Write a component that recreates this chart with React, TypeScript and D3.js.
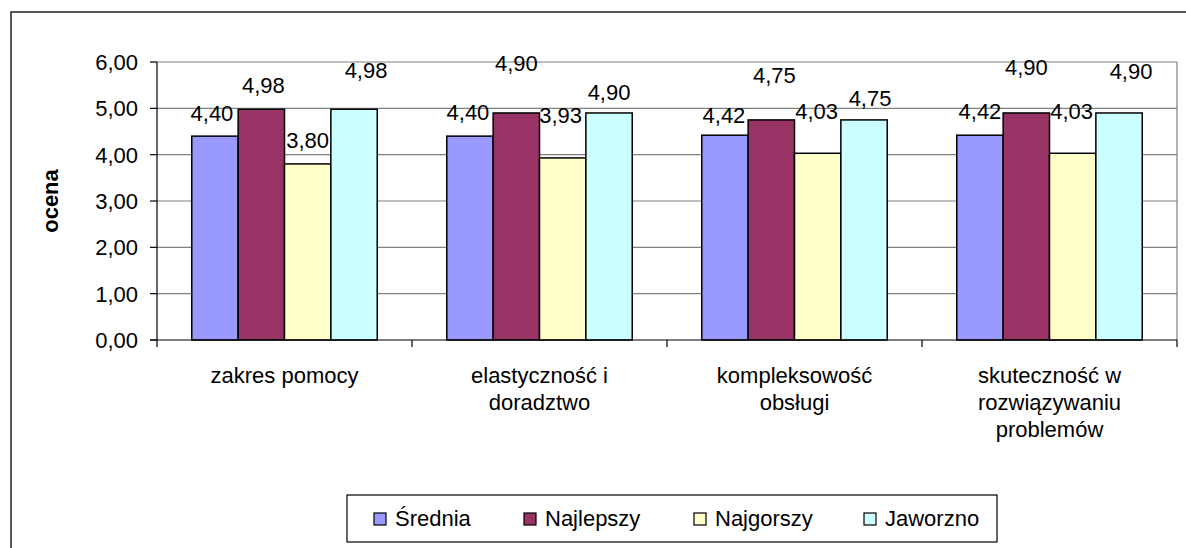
import * as d3 from 'd3';

const categories: string[][] = [
  ['zakres pomocy'],
  ['elastyczność i', 'doradztwo'],
  ['kompleksowość', 'obsługi'],
  ['skuteczność w', 'rozwiązywaniu', 'problemów'],
];
const seriesNames = ['Średnia', 'Najlepszy', 'Najgorszy', 'Jaworzno'];
const srednia = [4.4, 4.4, 4.42, 4.42];
const najlepszy = [4.98, 4.9, 4.75, 4.9];
const najgorszy = [3.8, 3.93, 4.03, 4.03];
const jaworzno = [4.98, 4.9, 4.75, 4.9];
const yTicks = [0, 1, 2, 3, 4, 5, 6];

const series = [srednia, najlepszy, najgorszy, jaworzno];
const colors = ['#9999FF', '#993366', '#FFFFCC', '#CCFFFF'];

// label nudges (dragged by hand in the original sheet), [dx, dy] from bar top
const labelNudge: [number, number][][] = [
  [[-3, -23], [-2, -24], [-1, -20], [0, -24]],
  [[2, -24], [0, -50], [3, -45], [0, -46]],
  [[0, -24], [-2, -43], [-1, -42], [-1, -42]],
  [[12, -39], [0, -21], [6, -22], [12, -42]],
];

const W = 1186;
const H = 548;
const FONT = '"Liberation Sans", Arial, sans-serif';
const plot = { left: 157, right: 1177, top: 62, bottom: 340 };
const legendX = [374, 524, 694, 864];

const fmt = (v: number) => v.toFixed(2).replace('.', ',');

export default function App() {
  const x0 = d3
    .scaleBand<number>()
    .domain(categories.map((_, i) => i))
    .range([plot.left, plot.right])
    .padding(0);
  const bw = x0.bandwidth();
  const x1 = d3
    .scaleBand<number>()
    .domain(seriesNames.map((_, i) => i))
    .range([(bw * 0.75) / 5.5, (bw * 4.75) / 5.5])
    .padding(0);
  const y = d3.scaleLinear().domain([0, 6]).range([plot.bottom, plot.top]);

  return (
    <svg
      width={W}
      height={H}
      viewBox={`0 0 ${W} ${H}`}
      style={{ position: 'absolute', left: 0, top: 0, background: '#fff' }}
      fontFamily={FONT}
    >
      <rect x={11} y={12} width={1300} height={700} fill="#fff" stroke="#222" strokeWidth={1.5} />

      {/* grid */}
      {yTicks.slice(1).map((t) => (
        <line key={t} x1={plot.left} x2={plot.right} y1={y(t)} y2={y(t)} stroke="#808080" strokeWidth={1.2} />
      ))}
      <line x1={plot.right} x2={plot.right} y1={plot.top} y2={plot.bottom} stroke="#808080" strokeWidth={1.2} />

      {/* bars */}
      {categories.map((_, ci) => (
        <g key={ci} transform={`translate(${x0(ci)},0)`}>
          {series.map((vals, si) => (
            <rect
              key={si}
              x={x1(si)}
              y={y(vals[ci])}
              width={x1.bandwidth()}
              height={plot.bottom - y(vals[ci])}
              fill={colors[si]}
              stroke="#000"
              strokeWidth={1.5}
            />
          ))}
        </g>
      ))}

      {/* axes */}
      <line x1={plot.left} x2={plot.left} y1={plot.top} y2={plot.bottom} stroke="#000" strokeWidth={1.2} />
      <line x1={plot.left - 7} x2={plot.right} y1={plot.bottom} y2={plot.bottom} stroke="#000" strokeWidth={1.2} />
      {yTicks.map((t) => (
        <g key={t}>
          <line x1={plot.left - 7} x2={plot.left} y1={y(t)} y2={y(t)} stroke="#000" strokeWidth={1.2} />
          <text x={138} y={y(t)} dy="0.36em" textAnchor="end" fontSize={22} fill="#000">
            {fmt(t)}
          </text>
        </g>
      ))}
      {categories.map((_, i) => (
        <line key={i} x1={x0(i)} x2={x0(i)} y1={plot.bottom} y2={plot.bottom + 7} stroke="#000" strokeWidth={1.2} />
      ))}
      <line x1={plot.right} x2={plot.right} y1={plot.bottom} y2={plot.bottom + 7} stroke="#000" strokeWidth={1.2} />

      {categories.map((lines, i) => (
        <text key={i} x={(x0(i) ?? 0) + bw / 2} y={383} textAnchor="middle" fontSize={22} fill="#000">
          {lines.map((l, k) => (
            <tspan key={k} x={(x0(i) ?? 0) + bw / 2} dy={k === 0 ? 0 : 27}>
              {l}
            </tspan>
          ))}
        </text>
      ))}

      {/* data labels */}
      {categories.map((_, ci) =>
        series.map((vals, si) => {
          const [dx, dy] = labelNudge[si][ci];
          return (
            <text
              key={`${ci}-${si}`}
              x={(x0(ci) ?? 0) + (x1(si) ?? 0) + x1.bandwidth() / 2 + dx}
              y={y(vals[ci]) + dy}
              dy="0.36em"
              textAnchor="middle"
              fontSize={22}
              fill="#000"
            >
              {fmt(vals[ci])}
            </text>
          );
        }),
      )}

      <text
        transform={`translate(50,${(plot.top + plot.bottom) / 2}) rotate(-90)`}
        textAnchor="middle"
        dy="0.36em"
        fontSize={22}
        fontWeight={700}
        fill="#000"
      >
        ocena
      </text>

      {/* legend */}
      <rect x={347} y={495} width={650} height={47} fill="#fff" stroke="#000" strokeWidth={1.2} />
      {seriesNames.map((name, i) => (
        <g key={name}>
          <rect x={legendX[i]} y={513} width={12} height={12} fill={colors[i]} stroke="#000" strokeWidth={1.2} />
          <text x={legendX[i] + 21} y={526} fontSize={22} fill="#000">
            {name}
          </text>
        </g>
      ))}
    </svg>
  );
}
